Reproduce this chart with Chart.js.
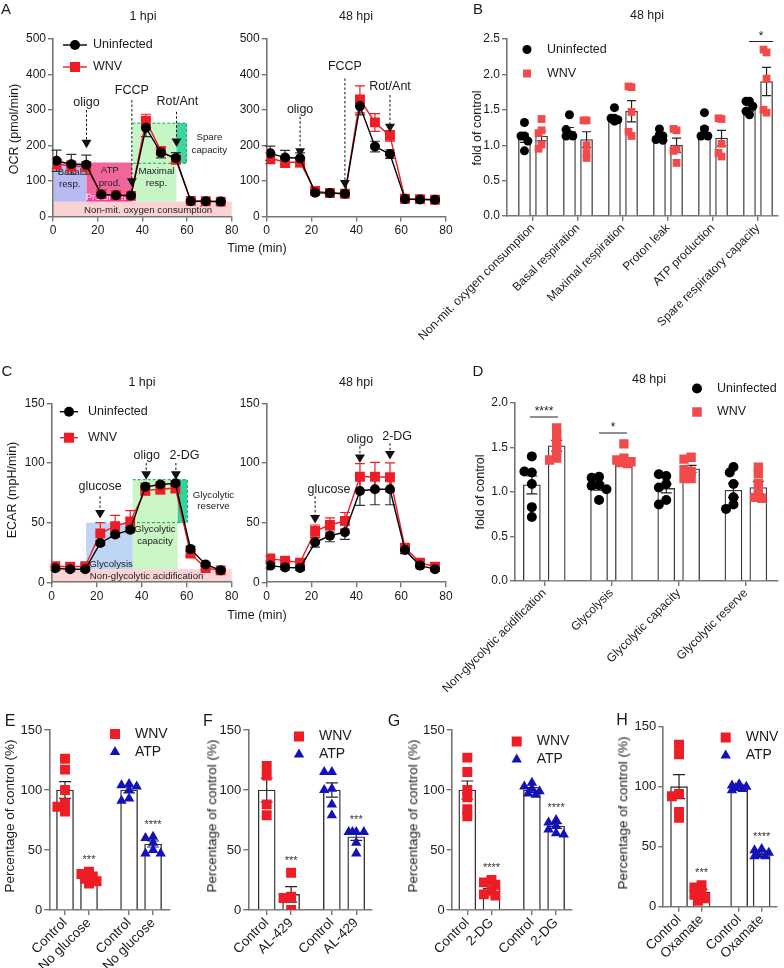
<!DOCTYPE html>
<html><head><meta charset="utf-8">
<script src="https://cdn.jsdelivr.net/npm/chart.js"></script>
<style>
html,body{margin:0;padding:0;background:#fff;}
body{width:784px;height:968px;position:relative;overflow:hidden;font-family:Arial,"Liberation Sans",Helvetica,sans-serif;color:#1a1a1a;}
canvas{position:absolute;}
.t{position:absolute;white-space:nowrap;transform:translate(-50%,-50%);line-height:1;}
.v{position:absolute;white-space:nowrap;transform:translate(-50%,-50%) rotate(-90deg);line-height:1;}
</style></head><body>
<div class="t" style="left:6px;top:8px;font-size:15px">A</div>
<div class="t" style="left:478px;top:8px;font-size:15px">B</div>
<div class="t" style="left:7px;top:370px;font-size:15px">C</div>
<div class="t" style="left:478px;top:370px;font-size:15px">D</div>
<div class="t" style="left:10px;top:721px;font-size:16px">E</div>
<div class="t" style="left:208px;top:721px;font-size:16px">F</div>
<div class="t" style="left:394px;top:721px;font-size:16px">G</div>
<div class="t" style="left:622px;top:720px;font-size:16px">H</div>
<div class="t" style="left:143px;top:16px;font-size:12.5px">1 hpi</div>
<div class="t" style="left:356px;top:16px;font-size:12.5px">48 hpi</div>
<div class="t" style="left:647px;top:15px;font-size:12.5px">48 hpi</div>
<div class="t" style="left:142px;top:382px;font-size:12.5px">1 hpi</div>
<div class="t" style="left:356px;top:382px;font-size:12.5px">48 hpi</div>
<div class="t" style="left:649px;top:379px;font-size:12.5px">48 hpi</div>
<div class="v" style="left:14px;top:129px;font-size:12.5px">OCR (pmol/min)</div>
<div class="t" style="left:257px;top:248px;font-size:12.5px">Time (min)</div>
<div class="v" style="left:477px;top:128px;font-size:12.5px">fold of control</div>
<div class="v" style="left:12px;top:490px;font-size:12.5px">ECAR (mpH/min)</div>
<div class="t" style="left:257px;top:615px;font-size:12.5px">Time (min)</div>
<div class="v" style="left:480px;top:492px;font-size:12.5px">fold of control</div>
<div class="v" style="left:10px;top:816px;font-size:13.5px">Percentage of control (%)</div>
<div class="v" style="left:212px;top:816px;font-size:13.5px">Percentage of control (%)</div>
<div class="v" style="left:413px;top:816px;font-size:13.5px">Percentage of control (%)</div>
<div class="v" style="left:623px;top:813px;font-size:13.5px">Percentage of control (%)</div>
<script>
// ===================== DATA =====================
const timeMin = [1.6, 8.2, 14.9, 21.6, 28.2, 34.9, 41.6, 48.3, 55.0, 61.7, 68.4, 75.1];
const ocr1Uninf    = [157, 147, 146, 62, 60, 59, 250, 180, 165, 43, 43, 42];
const ocr1UninfSem = [30, 28, 27, 5, 4, 4, 25, 15, 15, 3, 3, 3];
const ocr1Wnv      = [148, 142, 140, 63, 60, 58, 270, 185, 160, 44, 43, 42];
const ocr1WnvSem   = [14, 14, 14, 4, 4, 4, 18, 8, 10, 3, 3, 3];
const ocr48Uninf    = [178, 166, 164, 67, 66, 64, 311, 197, 176, 49, 48, 47];
const ocr48UninfSem = [20, 20, 15, 5, 4, 4, 25, 15, 12, 3, 3, 3];
const ocr48Wnv      = [164, 153, 153, 72, 66, 64, 330, 265, 227, 50, 49, 47];
const ocr48WnvSem   = [15, 15, 13, 5, 4, 4, 38, 25, 15, 3, 3, 3];
const ecar1Uninf    = [11.7, 10.9, 10.9, 33, 40, 44, 80, 82, 83, 28, 15, 10];
const ecar1UninfSem = [1.5, 1.5, 1.5, 2, 2, 2, 3, 2, 2, 2, 1.5, 1];
const ecar1Wnv      = [13.5, 13, 13.5, 41, 47, 51, 77, 78, 79, 24, 12, 10];
const ecar1WnvSem   = [1.5, 1.5, 1.5, 9, 9, 9, 4, 4, 4, 2, 1.5, 1];
const ecar48Uninf    = [14, 12.5, 12, 33.5, 39, 42, 76.5, 78, 78, 27, 14, 11];
const ecar48UninfSem = [2, 2, 2, 4, 5, 6, 12, 13, 13, 3, 2, 1];
const ecar48Wnv      = [20, 18, 16.5, 43, 48, 51.5, 88.5, 88.5, 88, 29, 16.5, 13];
const ecar48WnvSem   = [2, 2, 2, 5, 6, 7, 11, 12, 12, 3, 2, 1];

const bCats = ['Non-mit. oxygen consumption', 'Basal respiration', 'Maximal respiration', 'Proton leak', 'ATP production', 'Spare respiratory capacity'];
const bUninfMean = [1.10, 1.20, 1.36, 1.13, 1.18, 1.52];
const bUninfSem  = [0.06, 0.05, 0.04, 0.03, 0.08, 0.04];
const bWnvMean   = [1.13, 1.08, 1.48, 1.00, 1.10, 1.90];
const bWnvSem    = [0.07, 0.11, 0.15, 0.10, 0.11, 0.20];
const bUninfPts = [[1.32, 1.13, 1.13, 1.06, 0.92], [1.43, 1.15, 1.13, 1.22, 1.13], [1.53, 1.38, 1.38, 1.36, 1.34], [1.23, 1.15, 1.08, 1.13, 1.07], [1.46, 1.15, 1.23, 1.13, 1.13], [1.62, 1.62, 1.55, 1.43, 1.48]];
const bWnvPts   = [[1.21, 1.37, 1.17, 1.01, 0.95], [1.35, 1.35, 1.00, 0.89, 0.82], [1.82, 1.83, 1.47, 1.13, 1.19], [1.21, 1.23, 0.94, 0.92, 0.75], [1.37, 1.38, 1.02, 0.84, 0.89], [2.31, 2.35, 1.94, 1.46, 1.50]];

const dCats = ['Non-glycolytic acidification', 'Glycolysis', 'Glycolytic capacity', 'Glycolytic reserve'];
const dUninfMean = [1.08, 1.06, 1.04, 1.02];
const dUninfSem  = [0.10, 0.04, 0.05, 0.08];
const dWnvMean   = [1.52, 1.35, 1.26, 1.05];
const dWnvSem    = [0.06, 0.02, 0.04, 0.07];
const dUninfPts = [[1.40, 1.22, 1.23, 1.09, 0.83, 0.72], [1.17, 1.16, 1.08, 1.07, 1.03, 0.91], [1.18, 1.20, 1.09, 1.05, 0.91, 0.86], [1.28, 1.22, 1.09, 0.94, 0.86, 0.81]];
const dWnvPts   = [[1.72, 1.64, 1.57, 1.47, 1.38, 1.36], [1.54, 1.38, 1.36, 1.34, 1.33, 1.32], [1.39, 1.37, 1.23, 1.25, 1.15, 1.15], [1.28, 1.21, 1.10, 0.99, 0.94, 0.93]];

const eLabels = ['Control', 'No glucose', 'Control', 'No glucose'];
const eMean = [100, 27, 100, 55];
const eSem  = [7, 2, 2.5, 2.5];
const eWnvPts = [[126, 117, 100, 89, 86, 82], [32, 30, 28, 26, 24, 22]];
const eAtpPts = [[105, 104, 103, 100, 93, 91], [61, 60, 56, 50, 47, 47]];
const eStars = ['***', '****'];

const fLabels = ['Control', 'AL-429', 'Control', 'AL-429'];
const fMean = [100, 13, 100, 61];
const fSem  = [10, 6.5, 6, 3];
const fWnvPts = [[120, 112, 88, 79], [31, 11, 10, 0]];
const fAtpPts = [[115, 115, 101, 100, 88, 79], [65, 65, 65, 65, 56, 47]];
const fStars = ['***', '***'];

const gLabels = ['Control', '2-DG', 'Control', '2-DG'];
const gMean = [100, 18, 100, 70];
const gSem  = [7.5, 3, 2, 2];
const gWnvPts = [[127, 115, 100, 94, 84, 78], [25, 23, 21, 16, 13, 12]];
const gAtpPts = [[106, 103, 101, 99, 97, 96], [75, 73, 70, 67, 64, 63]];
const gStars = ['****', '****'];

const hLabels = ['Control', 'Oxamate', 'Control', 'Oxamate'];
const hMean = [100, 12, 100, 45];
const hSem  = [10, 2.5, 1, 1.5];
const hWnvPts = [[135, 127, 94, 92, 79, 74], [18, 16, 12, 10, 7, 5]];
const hAtpPts = [[102, 101, 100, 99, 98, 97], [48, 47, 45, 43, 42, 42]];
const hStars = ['***', '****'];

// ===================== HELPERS =====================
const FONT = 'Arial, "Liberation Sans", Helvetica, sans-serif';
Chart.defaults.font.family = FONT;
Chart.defaults.color = '#1a1a1a';
const AX = '#767676', RED = '#ee1c24', BRED = '#f24a4a', BLUE = '#1212b8', TXT = '#1a1a1a';

function axis(min, max, step, size, extra) {
  const o = {type: 'linear', min, max, offset: false,
    grid: {drawOnChartArea: false, drawTicks: true, tickLength: 5, color: AX, lineWidth: 1.4, offset: false},
    border: {display: true, color: AX, width: 1.6},
    ticks: {stepSize: step, color: TXT, font: {size}, padding: 2, autoSkip: false, maxRotation: 0, minRotation: 0}};
  if (extra) { for (const k in extra) { if (k === 'ticks') Object.assign(o.ticks, extra.ticks); else o[k] = extra[k]; } }
  return o;
}

function drawErr(ctx, x, yv, e, ys, color, cap, lw) {
  const y1 = ys.getPixelForValue(yv + e), y2 = ys.getPixelForValue(yv - e);
  ctx.save(); ctx.strokeStyle = color; ctx.lineWidth = lw; ctx.beginPath();
  ctx.moveTo(x, y1); ctx.lineTo(x, y2);
  ctx.moveTo(x - cap, y1); ctx.lineTo(x + cap, y1);
  ctx.moveTo(x - cap, y2); ctx.lineTo(x + cap, y2);
  ctx.stroke(); ctx.restore();
}
const errPlugin = {id: 'errbars',
  beforeDatasetsDraw(chart) {
    chart.data.datasets.forEach((ds, i) => {
      if (ds.errs && ds.type !== 'bar') {
        chart.getDatasetMeta(i).data.forEach((el, j) => drawErr(chart.ctx, el.x, ds.data[j].y, ds.errs[j], chart.scales.y, ds.errColor, ds.errCap, ds.errWidth));
      }
    });
  },
  afterDatasetDraw(chart, args) {
    const ds = chart.data.datasets[args.index];
    if (ds.errs && ds.type === 'bar') {
      args.meta.data.forEach((el, j) => drawErr(chart.ctx, el.x, ds.data[j].y, ds.errs[j], chart.scales.y, ds.errColor, ds.errCap, ds.errWidth));
    }
  }
};

function makeChart(g, config, extraPlugins) {
  const cv = document.createElement('canvas');
  const w = g.R - g.L, h = g.B - g.T;
  cv.width = w; cv.height = h;
  cv.style.left = g.L + 'px'; cv.style.top = g.T + 'px'; cv.style.width = w + 'px'; cv.style.height = h + 'px';
  document.body.insertBefore(cv, document.body.firstChild);
  const sx = config.options.scales.x, sy = config.options.scales.y;
  sx.afterFit = s => { s.height = g.B - g.pb; s.paddingLeft = 0; s.paddingRight = 0; s.paddingTop = 0; s.paddingBottom = 0; };
  sy.afterFit = s => { s.width = g.pl - g.L; s.paddingLeft = 0; s.paddingRight = 0; s.paddingTop = 0; s.paddingBottom = 0; };
  Object.assign(config.options, {responsive: false, animation: false, devicePixelRatio: 1, events: [],
    layout: {padding: {left: 0, top: g.pt - g.T, right: g.R - g.pr, bottom: 0}},
    plugins: {legend: {display: false}, tooltip: {enabled: false}}});
  config.plugins = (extraPlugins || []).concat([errPlugin]);
  return new Chart(cv, config);
}

function mSquare(c, x, y, half, color) { c.fillStyle = color; c.fillRect(x - half, y - half, 2 * half, 2 * half); }
function mCircle(c, x, y, r, color) { c.fillStyle = color; c.beginPath(); c.arc(x, y, r, 0, Math.PI * 2); c.fill(); }
function mTri(c, x, y, r, color) {
  c.fillStyle = color; c.beginPath();
  for (let k = 0; k < 3; k++) { const a = k * 2 * Math.PI / 3; const px = x + Math.sin(a) * r, py = y - Math.cos(a) * r; if (k) c.lineTo(px, py); else c.moveTo(px, py); }
  c.closePath(); c.fill();
}

// compact beeswarm: spread overlapping points sideways, limited to maxOff pixels
function swarm(vals, cx, pxX, pxY, diam, maxOff) {
  const placed = [], out = [];
  const step = diam * 0.38, thr = diam * 0.6;
  const cands = [0];
  for (let k = 1; k * step <= maxOff + 0.01; k++) { cands.push(-k * step, k * step); }
  vals.forEach(v => {
    const y = v * pxY; let best = 0, bestD = -1;
    for (const cand of cands) {
      const d = placed.length ? Math.min(...placed.map(p => Math.hypot(p.x - cand, p.y - y))) : 1e9;
      if (d >= thr) { best = cand; bestD = d; break; }
      if (d > bestD) { bestD = d; best = cand; }
    }
    placed.push({x: best, y});
    out.push({x: cx + best / pxX, y: v});
  });
  return out;
}

// ===================== LINE PANELS (A, C) =====================
function arrowDraw(c, X, Y, a) {
  const x = X(a.x);
  c.save(); c.strokeStyle = '#111'; c.lineWidth = 1; c.setLineDash([2.5, 2]);
  c.beginPath(); c.moveTo(x, Y(a.y0)); c.lineTo(x, Y(a.y1)); c.stroke();
  c.setLineDash([]);
  const top = Y(a.y1);
  c.fillStyle = '#111'; c.beginPath(); c.moveTo(x - 5, top); c.lineTo(x + 5, top); c.lineTo(x, top + 8.5); c.closePath(); c.fill();
  c.font = '12.5px ' + FONT; c.textAlign = 'center'; c.textBaseline = 'middle'; c.fillStyle = TXT;
  c.fillText(a.t, X(a.tx !== undefined ? a.tx : a.x), Y(a.ty));
  c.restore();
}
function overlayPlugin(g, spec) {
  return {id: 'overlay',
    beforeDraw(ch) {
      const c = ch.ctx, X = v => ch.scales.x.getPixelForValue(v), Y = v => ch.scales.y.getPixelForValue(v);
      c.save();
      (spec.regions || []).forEach(r => { c.fillStyle = r.c; c.fillRect(X(r.x0), Y(r.y1), X(r.x1) - X(r.x0), Y(r.y0) - Y(r.y1)); });
      if (spec.box) {
        const b = spec.box; c.setLineDash([3, 2]); c.strokeStyle = '#1e9e60'; c.lineWidth = 1;
        c.beginPath(); c.moveTo(X(b.x0), Y(b.y1)); c.lineTo(X(b.x1), Y(b.y1)); c.lineTo(X(b.x1), Y(b.y0)); c.lineTo(X(b.x0), Y(b.y0)); c.stroke();
        c.setLineDash([]);
      }
      c.textAlign = 'center'; c.textBaseline = 'middle';
      (spec.labels || []).forEach(l => { c.font = (l[3] || 9.7) + 'px ' + FONT; c.fillStyle = l[4] || '#222'; c.fillText(l[0], X(l[1]), Y(l[2])); });
      c.restore();
    },
    afterDatasetsDraw(ch) {
      const c = ch.ctx, X = v => ch.scales.x.getPixelForValue(v), Y = v => ch.scales.y.getPixelForValue(v);
      (spec.arrows || []).forEach(a => arrowDraw(c, X, Y, a));
    },
    afterDraw(ch) {
      if (!spec.legend) return;
      const c = ch.ctx, L = spec.legend;
      c.save();
      L.items.forEach(it => {
        const y = it.y - g.T;
        c.strokeStyle = it.color; c.lineWidth = 1.4; c.beginPath(); c.moveTo(L.x0 - g.L, y); c.lineTo(L.x1 - g.L, y); c.stroke();
        if (it.style === 'circle') mCircle(c, L.xm - g.L, y, 5, it.color); else mSquare(c, L.xm - g.L, y, 5, it.color);
        c.font = '12.5px ' + FONT; c.fillStyle = TXT; c.textAlign = 'left'; c.textBaseline = 'middle';
        c.fillText(it.text, L.xt - g.L, y);
      });
      c.restore();
    }
  };
}
function lineChart(g, uninf, uSem, wnv, wSem, ymax, ystep, spec) {
  const ds = (vals, sem, color, style, r) => ({type: 'line', data: timeMin.map((t, i) => ({x: t, y: vals[i]})),
    borderColor: color, borderWidth: 1.4, pointStyle: style, pointRadius: r, pointBackgroundColor: color,
    pointBorderColor: color, pointBorderWidth: 0, tension: 0, fill: false,
    errs: sem, errColor: color === '#000' ? '#333' : color, errCap: 5, errWidth: 1.2});
  return makeChart(g, {type: 'line',
    data: {datasets: [ds(uninf, uSem, '#000', 'circle', 5), ds(wnv, wSem, RED, 'rect', 7)]},
    options: {scales: {x: axis(0, 80, 20, 12), y: axis(0, ymax, ystep, 12)}}}, [overlayPlugin(g, spec)]);
}

const gA1 = {L: 0, T: 0, R: 246, B: 262, pl: 53, pt: 39, pr: 231.7, pb: 216.5};
const gA2 = {L: 226, T: 0, R: 462, B: 262, pl: 266.7, pt: 39, pr: 446, pb: 216.5};
const gC1 = {L: 0, T: 350, R: 246, B: 604, pl: 51.7, pt: 403.3, pr: 231.7, pb: 582.3};
const gC2 = {L: 226, T: 350, R: 462, B: 604, pl: 266.7, pt: 403.3, pr: 446, pb: 582.3};

lineChart(gA1, ocr1Uninf, ocr1UninfSem, ocr1Wnv, ocr1WnvSem, 500, 100, {
  regions: [
    {x0: 0, x1: 80, y0: 0, y1: 42, c: '#f9d3d3'},
    {x0: 0.3, x1: 15, y0: 42, y1: 152, c: '#b9b9f3'},
    {x0: 15, x1: 35.5, y0: 64, y1: 152, c: '#f0659b'},
    {x0: 15, x1: 35.5, y0: 42, y1: 64, c: '#ff3ba3'},
    {x0: 35.5, x1: 55.3, y0: 42, y1: 263, c: '#c6f6c6'},
    {x0: 55.3, x1: 59.8, y0: 150, y1: 263, c: '#3ed69d'}],
  box: {x0: 35.5, x1: 59.8, y0: 150, y1: 263},
  labels: [['Basal', 7.5, 124], ['resp.', 7.5, 91], ['ATP', 25.4, 129], ['prod.', 25.4, 94],
    ['Proton leak', 25.4, 53, 9.5, '#fff'], ['Maximal', 46.3, 127], ['resp.', 46.3, 94],
    ['Spare', 70, 223], ['capacity', 70, 186], ['Non-mit. oxygen consumption', 42.6, 18]],
  arrows: [{x: 15, t: 'oligo', ty: 320, y0: 300, y1: 216}, {x: 35.3, t: 'FCCP', ty: 356, y0: 328, y1: 108},
    {x: 55.3, tx: 55.7, t: 'Rot/Ant', ty: 324, y0: 295, y1: 220}],
  legend: {x0: 63, x1: 87, xm: 75, xt: 93, items: [{y: 45, color: '#000', style: 'circle', text: 'Uninfected'}, {y: 67, color: RED, style: 'rect', text: 'WNV'}]}
});
lineChart(gA2, ocr48Uninf, ocr48UninfSem, ocr48Wnv, ocr48WnvSem, 500, 100, {
  arrows: [{x: 14.9, t: 'oligo', ty: 300, y0: 281, y1: 192}, {x: 34.9, t: 'FCCP', ty: 422, y0: 389, y1: 103},
    {x: 55, t: 'Rot/Ant', ty: 366, y0: 342, y1: 261}]
});
lineChart(gC1, ecar1Uninf, ecar1UninfSem, ecar1Wnv, ecar1WnvSem, 150, 50, {
  regions: [
    {x0: 0, x1: 80, y0: 0, y1: 11, c: '#f9d3d5'},
    {x0: 15.3, x1: 36, y0: 11, y1: 50, c: '#bed5f3'},
    {x0: 36, x1: 56, y0: 11, y1: 86, c: '#caf5c4'},
    {x0: 56, x1: 60.3, y0: 50, y1: 86, c: '#33d39b'}],
  box: {x0: 36, x1: 60.3, y0: 50, y1: 86},
  labels: [['Glycolysis', 26.4, 15.4], ['Glycolytic', 45.9, 44.4], ['capacity', 45.9, 34],
    ['Glycolytic', 71.9, 73.2], ['reserve', 71.9, 63.4], ['Non-glycolytic acidification', 42.2, 5.3]],
  arrows: [{x: 21.5, t: 'glucose', ty: 80, y0: 72, y1: 60.5}, {x: 42, tx: 42.2, t: 'oligo', ty: 106, y0: 100, y1: 93},
    {x: 55.2, tx: 59, t: '2-DG', ty: 106, y0: 100, y1: 93}],
  legend: {x0: 60, x1: 78, xm: 69, xt: 88, items: [{y: 411.7, color: '#000', style: 'circle', text: 'Uninfected'}, {y: 437.7, color: RED, style: 'rect', text: 'WNV'}]}
});
lineChart(gC2, ecar48Uninf, ecar48UninfSem, ecar48Wnv, ecar48WnvSem, 150, 50, {
  arrows: [{x: 21.6, tx: 27.8, t: 'glucose', ty: 77.4, y0: 72, y1: 56.4}, {x: 41.6, t: 'oligo', ty: 119.3, y0: 114, y1: 107},
    {x: 55, tx: 58.2, t: '2-DG', ty: 122, y0: 116.5, y1: 110}]
});

// ===================== GROUPED BAR PANELS (B, D) =====================
function groupBars(g, cats, tick0, ppu, off, barW, ymax, uMean, uSem, wMean, wSem, uPts, wPts, pt, extra) {
  const pxY = (g.pb - g.pt) / ymax;
  const xmin = (g.pl - tick0) / ppu, xmax = (g.pr - tick0) / ppu;
  const sc = [], sw = [];
  uPts.forEach((arr, i) => sc.push(...swarm(arr, i - off, ppu, pxY, pt.rc * 2, pt.spread)));
  wPts.forEach((arr, i) => sw.push(...swarm(arr, i + off, ppu, pxY, pt.rs * 1.45, pt.spread)));
  const bar = (means, sem, sign) => ({type: 'bar', data: means.map((v, i) => ({x: i + sign * off, y: v})), barThickness: barW, grouped: false,
    backgroundColor: '#fff', borderColor: '#3a3a3a', borderWidth: 1.3, borderSkipped: 'bottom', order: 2,
    errs: sem, errColor: '#222', errCap: pt.cap, errWidth: 1.2});
  const xa = axis(xmin, xmax, 1, 12, {ticks: {minRotation: 45, maxRotation: 45, padding: 0, callback: (v, i) => cats[i]},
    afterBuildTicks: s => { s.ticks = cats.map((c, i) => ({value: i})); }});
  const ya = axis(0, ymax, 0.5, 12, {ticks: {callback: v => Number(v).toFixed(1)}});
  const ov = {id: 'ovb', afterDraw(ch) {
    const c = ch.ctx; c.save();
    const L = extra.legend;
    mCircle(c, L.x - g.L, L.y1 - g.T, pt.rc, '#000');
    mSquare(c, L.x - g.L, L.y2 - g.T, pt.rs * 0.72, BRED);
    c.font = '12.5px ' + FONT; c.fillStyle = TXT; c.textAlign = 'left'; c.textBaseline = 'middle';
    c.fillText('Uninfected', L.xt - g.L, L.y1 - g.T); c.fillText('WNV', L.xt - g.L, L.y2 - g.T);
    extra.sig.forEach(s => {
      c.strokeStyle = '#222'; c.lineWidth = 1; c.beginPath(); c.moveTo(s.x0 - g.L, s.y - g.T); c.lineTo(s.x1 - g.L, s.y - g.T); c.stroke();
      c.font = '12px ' + FONT; c.textAlign = 'center'; c.fillStyle = '#222';
      c.fillText(s.t, (s.x0 + s.x1) / 2 - g.L, s.y - g.T - 5);
    });
    c.restore();
  }};
  return makeChart(g, {type: 'bar', data: {datasets: [
      {type: 'scatter', data: sc, pointStyle: 'circle', pointRadius: pt.rc, pointBackgroundColor: '#000', pointBorderWidth: 0, order: 1},
      {type: 'scatter', data: sw, pointStyle: 'rect', pointRadius: pt.rs, pointBackgroundColor: BRED, pointBorderWidth: 0, order: 1},
      bar(uMean, uSem, -1), bar(wMean, wSem, 1)]},
    options: {scales: {x: xa, y: ya}}}, [ov]);
}
const gB = {L: 400, T: 0, R: 784, B: 348, pl: 507, pt: 39, pr: 778, pb: 216};
groupBars(gB, bCats, 533, 45, 0.19, 12, 2.5, bUninfMean, bUninfSem, bWnvMean, bWnvSem, bUninfPts, bWnvPts,
  {rc: 4.5, rs: 5.5, cap: 4.5, spread: 6},
  {legend: {x: 527, y1: 49.5, y2: 73.5, xt: 547}, sig: [{x0: 749, x1: 773, y: 41.5, t: '*'}]});
const gD = {L: 400, T: 360, R: 784, B: 712, pl: 515, pt: 403, pr: 784, pb: 581};
groupBars(gD, dCats, 545, 68.9, 0.185, 17, 2.0, dUninfMean, dUninfSem, dWnvMean, dWnvSem, dUninfPts, dWnvPts,
  {rc: 5, rs: 6.6, cap: 5.5, spread: 8},
  {legend: {x: 697, y1: 388.5, y2: 412, xt: 717}, sig: [{x0: 530, x1: 558, y: 417, t: '****'}, {x0: 599, x1: 627, y: 433, t: '*'}]});

// ===================== PERCENT PANELS (E-H) =====================
function pctPanel(g, tick0, ppu, labels, means, sems, wnvPts, atpPts, stars, leg, fs) {
  const pos = [1, 2, 3.67, 4.67];
  const pxY = (g.pb - g.pt) / 150;
  const xmin = 1 - (tick0 - g.pl) / ppu, xmax = 1 + (g.pr - tick0) / ppu;
  const wnv = swarm(wnvPts[0], pos[0], ppu, pxY, 10, 8).concat(swarm(wnvPts[1], pos[1], ppu, pxY, 10, 8));
  const atp = swarm(atpPts[0], pos[2], ppu, pxY, 10, 8).concat(swarm(atpPts[1], pos[3], ppu, pxY, 10, 8));
  const xa = axis(xmin, xmax, 1, fs.x, {ticks: {minRotation: 45, maxRotation: 45, padding: 0, callback: (v, i) => labels[i]},
    afterBuildTicks: s => { s.ticks = pos.map(p => ({value: p})); }});
  const ya = axis(0, 150, 50, fs.y);
  const ov = {id: 'ovp', afterDraw(ch) {
    const c = ch.ctx, X = v => ch.scales.x.getPixelForValue(v), Y = v => ch.scales.y.getPixelForValue(v);
    c.save(); c.fillStyle = '#333'; c.font = '11px ' + FONT; c.textAlign = 'center'; c.textBaseline = 'middle';
    c.fillText(stars[0], X(pos[1]), Y(Math.max(...wnvPts[1], means[1] + sems[1])) - 12);
    c.fillText(stars[1], X(pos[3]), Y(Math.max(...atpPts[1], means[3] + sems[3])) - 12);
    const lx = leg[0] - g.L, ly = leg[1] - g.T;
    mSquare(c, lx, ly, 5, RED); mTri(c, lx, ly + 18, 6, BLUE);
    c.font = fs.leg + 'px ' + FONT; c.textAlign = 'left'; c.fillStyle = TXT;
    c.fillText('WNV', lx + 20, ly); c.fillText('ATP', lx + 20, ly + 18);
    c.restore();
  }};
  return makeChart(g, {type: 'bar', data: {datasets: [
      {type: 'scatter', data: wnv, pointStyle: 'rect', pointRadius: 7, pointBackgroundColor: RED, pointBorderWidth: 0, order: 1},
      {type: 'scatter', data: atp, pointStyle: 'triangle', pointRadius: 6, pointBackgroundColor: BLUE, pointBorderWidth: 0, order: 1},
      {type: 'bar', data: means.map((v, i) => ({x: pos[i], y: v})), barThickness: 17, grouped: false,
        backgroundColor: '#fff', borderColor: '#333', borderWidth: 1.4, borderSkipped: 'bottom', order: 2,
        errs: sems, errColor: '#222', errCap: 6, errWidth: 1.2}]},
    options: {scales: {x: xa, y: ya}}}, [ov]);
}
const fsEH = {x: 13.5, y: 13, leg: 14};
pctPanel({L: 4, T: 700, R: 184, B: 968, pl: 49.3, pt: 730, pr: 170, pb: 910}, 65, 24, eLabels, eMean, eSem, eWnvPts, eAtpPts, eStars, [115, 734], fsEH);
pctPanel({L: 200, T: 700, R: 386, B: 968, pl: 248.3, pt: 730, pr: 371.7, pb: 910}, 266.7, 24.4, fLabels, fMean, fSem, fWnvPts, fAtpPts, fStars, [299, 736.5], fsEH);
pctPanel({L: 404, T: 700, R: 586, B: 968, pl: 451.7, pt: 730, pr: 571.7, pb: 910}, 467.3, 24.2, gLabels, gMean, gSem, gWnvPts, gAtpPts, gStars, [516.7, 741.5], fsEH);
pctPanel({L: 616, T: 700, R: 784, B: 968, pl: 663.3, pt: 726.7, pr: 784, pb: 906.7}, 680, 23.9, hLabels, hMean, hSem, hWnvPts, hAtpPts, hStars, [725.7, 737.5], fsEH);
</script>
</body></html>
